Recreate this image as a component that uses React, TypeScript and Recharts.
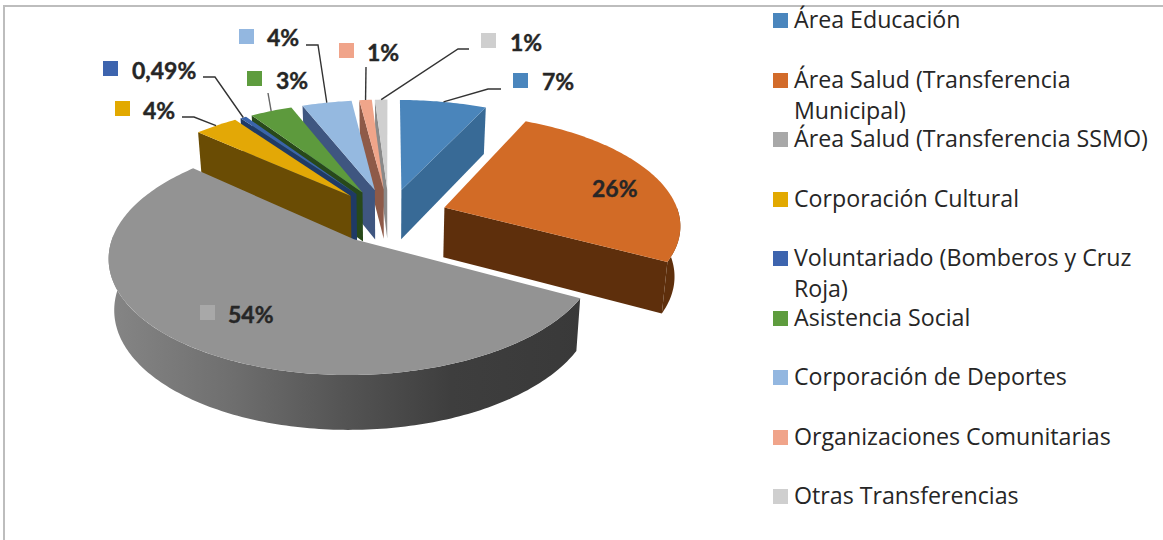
import { PieChart, Pie, Legend } from 'recharts'

const names = [
  'Área Educación',
  'Área Salud (Transferencia\nMunicipal)',
  'Área Salud (Transferencia SSMO)',
  'Corporación Cultural',
  'Voluntariado (Bomberos y Cruz\nRoja)',
  'Asistencia Social',
  'Corporación de Deportes',
  'Organizaciones Comunitarias',
  'Otras Transferencias',
]
const values = [7, 26, 54, 3.5, 0.49, 3.4, 4, 1, 1]
const percentLabels = ['7%', '26%', '54%', '4%', '0,49%', '3%', '4%', '1%', '1%']

const topColors = ['#4a85bb', '#d26b26', '#939393', '#e3a806', '#3a64aa', '#5d9a3d', '#95b9e0', '#f0a58a', '#cfcfcf']
const wallColors = ['#386a96', '#5e2f0c', 'url(#grayWall)', '#6a4c04', '#1f3a66', '#28491a', '#3f5680', '#8e5a48', '#8a8a8a']
const markerColors = ['#4a86bd', '#d26b2a', '#a8a8a8', '#e2a900', '#3d64ae', '#5e9c3e', '#93b7e0', '#f0a48a', '#cfcfcf']

// marker box, text start, text middle y and optional leader elbow points
const labelLayout: { mx?: number; my?: number; tx: number; ty: number; line?: number[][] }[] = [
  { mx: 513, my: 73, tx: 542, ty: 81, line: [[488, 89], [501, 89]] },
  { tx: 592, ty: 188 },
  { mx: 200, my: 305, tx: 228, ty: 314 },
  { mx: 115, my: 101, tx: 143, ty: 110, line: [[194, 117], [182, 117]] },
  { mx: 103, my: 61, tx: 132, ty: 70, line: [[215, 77], [203, 77]] },
  { mx: 247, my: 71, tx: 276, ty: 80, line: [[268, 93]] },
  { mx: 239, my: 29, tx: 267, ty: 37, line: [[318, 45], [306, 45]] },
  { mx: 339, my: 43, tx: 367, ty: 52, line: [[366, 67]] },
  { mx: 481, my: 33, tx: 510, ty: 42, line: [[458, 49], [469, 49]] },
]

// rows go in reverse so the back slices get painted first
const rows = names.map((name, i) => ({ name, value: values[i], row: i })).reverse()

const CX = 389
const CY = 216
const EXPLODE = 59
const TILT = 0.466
const PERSP = 0.0006
const DEPTH = 50

const rad = (a: number) => (a * Math.PI) / 180

function project(u: number, v: number, low = false) {
  const d = 1 + PERSP * v
  const x = CX + u / d
  const y = CY - (v * TILT) / d
  if (!low) return [x, y]
  return [CX + (x - CX) * 0.98, y + DEPTH / Math.sqrt(d)]
}

// Recharts angles are counter-clockwise from 3 o'clock, here clockwise from 12
function clockRange(startAngle: number, endAngle: number) {
  const a0 = (((90 - endAngle) % 360) + 360) % 360
  return [a0, a0 + (endAngle - startAngle)]
}

function planePoint(a0: number, a1: number, angle: number | null, R: number) {
  const mid = rad((a0 + a1) / 2)
  const u = EXPLODE * Math.sin(mid)
  const v = EXPLODE * Math.cos(mid)
  if (angle === null) return [u, v]
  return [u + R * Math.sin(rad(angle)), v + R * Math.cos(rad(angle))]
}

function toPath(points: number[][]) {
  return 'M' + points.map((p) => `${p[0].toFixed(2)},${p[1].toFixed(2)}`).join('L') + 'Z'
}

function Wedge(props: any) {
  const { startAngle, endAngle, outerRadius } = props
  const row = props.payload?.row ?? props.row
  const [a0, a1] = clockRange(startAngle, endAngle)
  const at = (angle: number | null, low = false) => {
    const [u, v] = planePoint(a0, a1, angle, outerRadius)
    return project(u, v, low)
  }
  const arc = (from: number, to: number, low = false) => {
    const pts: number[][] = []
    const steps = Math.max(2, Math.ceil(to - from))
    for (let i = 0; i <= steps; i++) pts.push(at(from + ((to - from) * i) / steps, low))
    return pts
  }
  const wall = wallColors[row]
  const sinStart = Math.sin(rad(a0))
  const sinEnd = Math.sin(rad(a1))
  const wallFrom = Math.max(a0, 90)
  const wallTo = Math.min(a1, 272)
  return (
    <g>
      {row === 2 && (
        <defs>
          <linearGradient id="grayWall" gradientUnits="userSpaceOnUse" x1="112" x2="584" y1="0" y2="0">
            <stop offset="0" stopColor="#858585" />
            <stop offset="0.25" stopColor="#6f6f6f" />
            <stop offset="0.5" stopColor="#535353" />
            <stop offset="0.72" stopColor="#3e3e3e" />
            <stop offset="1" stopColor="#393939" />
          </linearGradient>
        </defs>
      )}
      {sinStart < -0.001 && (
        <path d={toPath([at(null), at(a0), at(a0, true), at(null, true)])} fill={wall} />
      )}
      {sinEnd > 0.001 && (
        <path d={toPath([at(null), at(a1), at(a1, true), at(null, true)])} fill={wall} />
      )}
      {wallTo > wallFrom && (
        <path d={toPath([...arc(wallFrom, wallTo), ...arc(wallFrom, wallTo, true).reverse()])} fill={wall} />
      )}
      <path d={toPath([at(null), ...arc(a0, a1)])} fill={topColors[row]} />
    </g>
  )
}

function SliceLabel(props: any) {
  const { startAngle, endAngle, outerRadius } = props
  const row = props.payload?.row ?? props.row
  const [a0, a1] = clockRange(startAngle, endAngle)
  const box = labelLayout[row]
  const [u, v] = planePoint(a0, a1, (a0 + a1) / 2, outerRadius)
  const start = project(u, v)
  return (
    <g>
      {box.line && (
        <polyline
          points={[start, ...box.line].map((p) => p.join(',')).join(' ')}
          fill="none"
          stroke={row === 5 ? '#666' : '#333'}
          strokeWidth={1.4}
        />
      )}
      {box.mx !== undefined && <rect x={box.mx} y={box.my} width={15} height={15} fill={markerColors[row]} />}
      <text
        x={box.tx}
        y={box.ty}
        dominantBaseline="central"
        textAnchor="start"
        fontFamily="Lato"
        fontWeight={700}
        fontSize={23}
        fill="#262626"
        stroke="#262626"
        strokeWidth={0.4}
      >
        {percentLabels[row]}
      </text>
    </g>
  )
}

function LegendList() {
  return (
    <div style={{ position: 'relative', width: 390, height: 540 }}>
      {names.map((name, i) => (
        <div key={name} style={{ position: 'absolute', left: 0, top: 4 + i * 59.5, display: 'flex' }}>
          <span
            style={{
              width: 15,
              height: 15,
              marginTop: 9,
              marginRight: 6,
              background: markerColors[i],
              flex: 'none',
            }}
          />
          <span
            style={{
              fontFamily: '"Open Sans"',
              fontSize: 23.2,
              lineHeight: '31px',
              color: '#262626',
              whiteSpace: 'pre',
            }}
          >
            {name}
          </span>
        </div>
      ))}
    </div>
  )
}

export default function App() {
  return (
    <div style={{ position: 'absolute', left: 0, top: 0, width: 1163, height: 540, overflow: 'hidden', background: '#fff' }}>
      <div
        style={{
          position: 'absolute',
          left: 3,
          top: 5,
          right: 0,
          bottom: 0,
          borderLeft: '2px solid #bdbdbd',
          borderTop: '2px solid #bdbdbd',
        }}
      />
      <PieChart width={1163} height={540} margin={{ top: 0, right: 0, bottom: 0, left: 0 }} style={{ position: 'absolute', left: 0, top: 0 }}>
        <Pie
          data={rows}
          dataKey="value"
          nameKey="name"
          cx={CX}
          cy={CY}
          outerRadius={235}
          startAngle={90}
          endAngle={450}
          stroke="none"
          isAnimationActive={false}
          shape={Wedge}
          label={SliceLabel}
          labelLine={false}
        />
        <Legend content={LegendList} wrapperStyle={{ position: 'absolute', left: 773, top: 0, width: 390, height: 540 }} />
      </PieChart>
    </div>
  )
}
